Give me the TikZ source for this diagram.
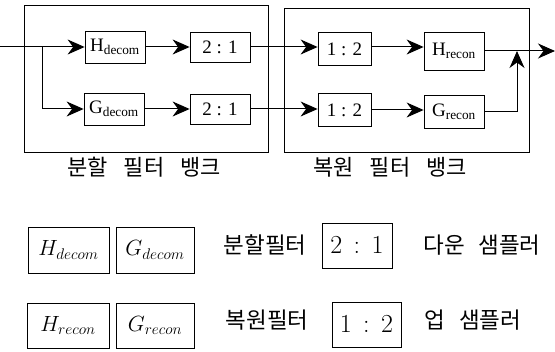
\RequirePackage{fix-cm}
\documentclass[tikz,border=0pt]{standalone}
\usepackage{fontspec}
\setmainfont{Liberation Serif}
\newfontfamily\kr{Noto Sans CJK KR}
\usetikzlibrary{arrows.meta}
\begin{document}
\begin{tikzpicture}[x=1pt,y=-1pt,
  frame/.style={draw, line width=0.8pt},
  blk/.style={draw, line width=0.8pt, minimum width=60pt, minimum height=32pt, inner sep=0pt, font=\fontsize{19}{19}\selectfont},
  arr/.style={-{Stealth[length=17pt,width=15pt,inset=5.5pt]}, line width=1pt},
  krlab/.style={font=\kr\fontsize{22}{22}\selectfont, inner sep=0pt},
  krleg/.style={font=\kr\fontsize{22.5}{22.5}\selectfont, inner sep=0pt},
  legbox/.style={draw, line width=0.8pt, inner sep=0pt, font=\fontsize{22}{22}\selectfont},
  ratbox/.style={draw, line width=0.8pt, inner sep=0pt, font=\fontsize{26}{26}\selectfont}
]
\useasboundingbox (0,0) rectangle (555,352);

% frames
\node[frame, minimum width=244pt, minimum height=147pt, inner sep=0pt] (fl) at (146,78.5) {};
\node[frame, minimum width=245pt, minimum height=144pt, inner sep=0pt] (fr) at (406.5,80) {};

% blocks
\node[blk] (Hd) at (115,47) {H\textsubscript{decom}};
\node[blk] (Gd) at (114,109) {G\textsubscript{decom}};
\node[blk, minimum height=30pt] (D1) at (220,47) {2 : 1};
\node[blk, minimum height=30pt] (D2) at (220,109) {2 : 1};
\node[blk, minimum width=53pt, minimum height=33pt] (U1) at (344.5,49) {1 : 2};
\node[blk, minimum width=53pt, minimum height=33pt] (U2) at (344.5,110) {1 : 2};
\node[blk, minimum height=38pt] (Hr) at (454,51) {H\textsubscript{recon}};
\node[blk, minimum height=33pt] (Gr) at (454,111.5) {G\textsubscript{recon}};

% connectors
\coordinate (in) at (0,47);
\coordinate (br) at (42,47);
\coordinate (jt) at (517,51);
\coordinate (out) at (555,51);
\draw[arr] (in) -- (Hd.west |- in);
\draw[arr] (br) |- (Gd.west);
\draw[arr] (Hd.east |- in) -- (D1.west |- in);
\draw[arr] (Gd.east) -- (D2.west);
\draw[arr] (D1.east |- in) -- (U1.west |- in);
\draw[arr] (D2.east) -- (U2.west |- D2.east);
\draw[arr] (U1.east |- in) -- (Hr.west |- in);
\draw[arr] (U2.east) -- (Gr.west |- U2.east);
\draw[arr] (Hr.east) -- (out);
\draw[arr] (Gr.east) -| (jt);

% frame labels
\node[krlab] (ll) at (144,167) {분할\hspace{0.72em}필터\hspace{0.72em}뱅크};
\node[krlab] (lr) at (390,167) {복원\hspace{0.72em}필터\hspace{0.72em}뱅크};

% legend row 1
\node[legbox, minimum width=81pt, minimum height=46pt] (lHd) at (68.5,250) {$H_{decom}$};
\node[legbox, minimum width=78pt, minimum height=46pt] (lGd) at (155,250) {$G_{decom}$};
\node[krleg] (t1) at (265,245) {분할필터};
\node[ratbox, minimum width=70pt, minimum height=45pt] (lD) at (357,245.5) {$2\,:\,1$};
\node[krleg] (t2) at (482,245) {다운\hspace{0.6em}샘플러};

% legend row 2
\node[legbox, minimum width=82pt, minimum height=45pt] (lHr) at (68,325.5) {$H_{recon}$};
\node[legbox, minimum width=78pt, minimum height=45pt] (lGr) at (155,325.5) {$G_{recon}$};
\node[krleg] (t3) at (267,320) {복원필터};
\node[ratbox, minimum width=69pt, minimum height=45pt] (lU) at (366.5,324.5) {$1\,:\,2$};
\node[krleg] (t4) at (473,320) {업\hspace{0.6em}샘플러};
\end{tikzpicture}
\end{document}
